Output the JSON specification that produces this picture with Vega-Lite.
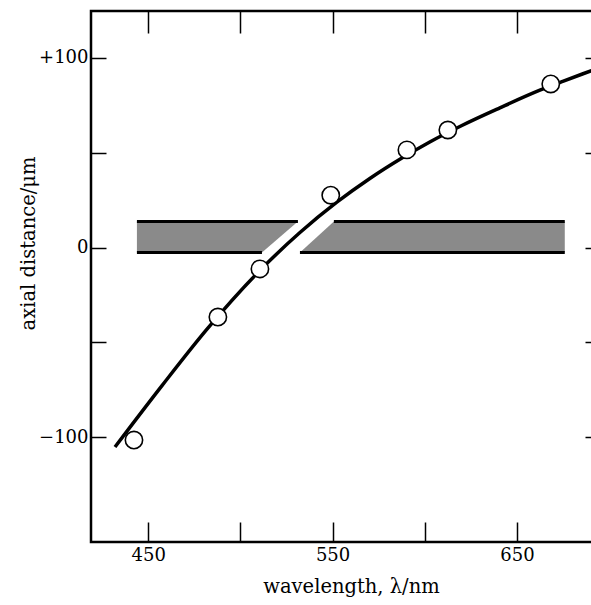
{
  "$schema": "https://vega.github.io/schema/vega-lite/v6.json",
  "width": 509,
  "height": 531,
  "autosize": {"type": "none"},
  "padding": {"left": 91, "top": 11, "right": 0, "bottom": 63},
  "background": "white",
  "config": {
    "view": {"stroke": "black", "strokeWidth": 2.5},
    "axis": {
      "labelFont": "DejaVu Serif", "titleFont": "DejaVu Serif",
      "labelColor": "black", "titleColor": "black",
      "labelFontSize": 18, "titleFontSize": 19.5, "titleFontWeight": "normal",
      "tickColor": "black", "tickWidth": 1.5, "grid": false, "domain": false
    }
  },
  "datasets": {
    "bands": [
      {"band": "L", "y": 13.7, "x": 443.9, "x2": 531.2},
      {"band": "L", "y": -2.6, "x": 443.9, "x2": 511.7},
      {"band": "R", "y": 13.7, "x": 550.7, "x2": 675.9},
      {"band": "R", "y": -2.6, "x": 532.3, "x2": 675.9}
    ],
    "curve": [
      {"w": 432.0, "d": -105.3},
      {"w": 457.5, "d": -72.9},
      {"w": 481.9, "d": -43.1},
      {"w": 510.6, "d": -12.1},
      {"w": 532.3, "d": 7.9},
      {"w": 552.3, "d": 23.9},
      {"w": 570.2, "d": 36.4},
      {"w": 587.6, "d": 47.2},
      {"w": 602.7, "d": 55.7},
      {"w": 620.1, "d": 64.4},
      {"w": 640.7, "d": 73.7},
      {"w": 662.4, "d": 83.0},
      {"w": 674.8, "d": 87.7},
      {"w": 690.0, "d": 93.2},
      {"w": 695.0, "d": 95.0}
    ],
    "points": [
      {"w": 442.3, "d": -101.6},
      {"w": 487.8, "d": -36.7},
      {"w": 510.6, "d": -11.3},
      {"w": 549.0, "d": 27.6},
      {"w": 590.3, "d": 51.5},
      {"w": 612.5, "d": 62.0},
      {"w": 668.3, "d": 86.3}
    ]
  },
  "resolve": {"axis": {"x": "independent", "y": "independent"}},
  "layer": [
    {
      "data": {"name": "bands"},
      "mark": {"type": "area", "orient": "horizontal", "color": "#8a8a8a"},
      "encoding": {
        "y": {"field": "y", "type": "quantitative",
          "scale": {"domain": [-155.4, 124.8], "nice": false, "zero": false},
          "axis": {"orient": "left", "values": [-100, -50, 0, 50, 100], "tickSize": -15, "labelPadding": 18,
            "labelExpr": "datum.value == 100 ? '+100' : datum.value == -100 ? '−100' : datum.value == 0 ? '0' : ''",
            "title": "axial distance/μm", "titleX": -57, "titleY": 232, "titleAngle": 270, "titleBaseline": "alphabetic", "titleAlign": "center"}},
        "x": {"field": "x", "type": "quantitative",
          "scale": {"domain": [419, 695], "nice": false, "zero": false},
          "axis": {"orient": "bottom", "values": [450, 500, 550, 600, 650], "tickSize": -20, "labelPadding": 24,
            "labelExpr": "datum.value == 500 || datum.value == 600 ? '' : datum.label",
            "title": "wavelength, λ/nm", "titleX": 260, "titleY": 50, "titleBaseline": "alphabetic", "titleAlign": "center"}},
        "x2": {"field": "x2"},
        "detail": {"field": "band"}
      }
    },
    {
      "data": {"name": "bands"},
      "mark": {"type": "rule", "color": "black", "strokeWidth": 3},
      "encoding": {
        "y": {"field": "y", "type": "quantitative", "scale": {"domain": [-155.4, 124.8], "nice": false, "zero": false}, "axis": null},
        "x": {"field": "x", "type": "quantitative", "scale": {"domain": [419, 695], "nice": false, "zero": false}, "axis": null},
        "x2": {"field": "x2"}
      }
    },
    {
      "data": {"name": "curve"},
      "mark": {"type": "line", "color": "black", "strokeWidth": 3.5, "interpolate": "monotone"},
      "encoding": {
        "x": {"field": "w", "type": "quantitative", "scale": {"domain": [419, 695], "nice": false, "zero": false},
          "axis": {"orient": "top", "values": [450, 500, 550, 600, 650], "tickSize": -22, "labels": false, "title": null}},
        "y": {"field": "d", "type": "quantitative", "scale": {"domain": [-155.4, 124.8], "nice": false, "zero": false},
          "axis": {"orient": "right", "values": [-100, -50, 0, 50, 100], "tickSize": -15, "labels": false, "title": null}}
      }
    },
    {
      "data": {"name": "points"},
      "mark": {"type": "point", "shape": "circle", "filled": false, "fill": "white", "fillOpacity": 1, "stroke": "black", "strokeWidth": 1.6, "size": 300, "opacity": 1},
      "encoding": {
        "x": {"field": "w", "type": "quantitative", "scale": {"domain": [419, 695], "nice": false, "zero": false}, "axis": null},
        "y": {"field": "d", "type": "quantitative", "scale": {"domain": [-155.4, 124.8], "nice": false, "zero": false}, "axis": null}
      }
    }
  ]
}
